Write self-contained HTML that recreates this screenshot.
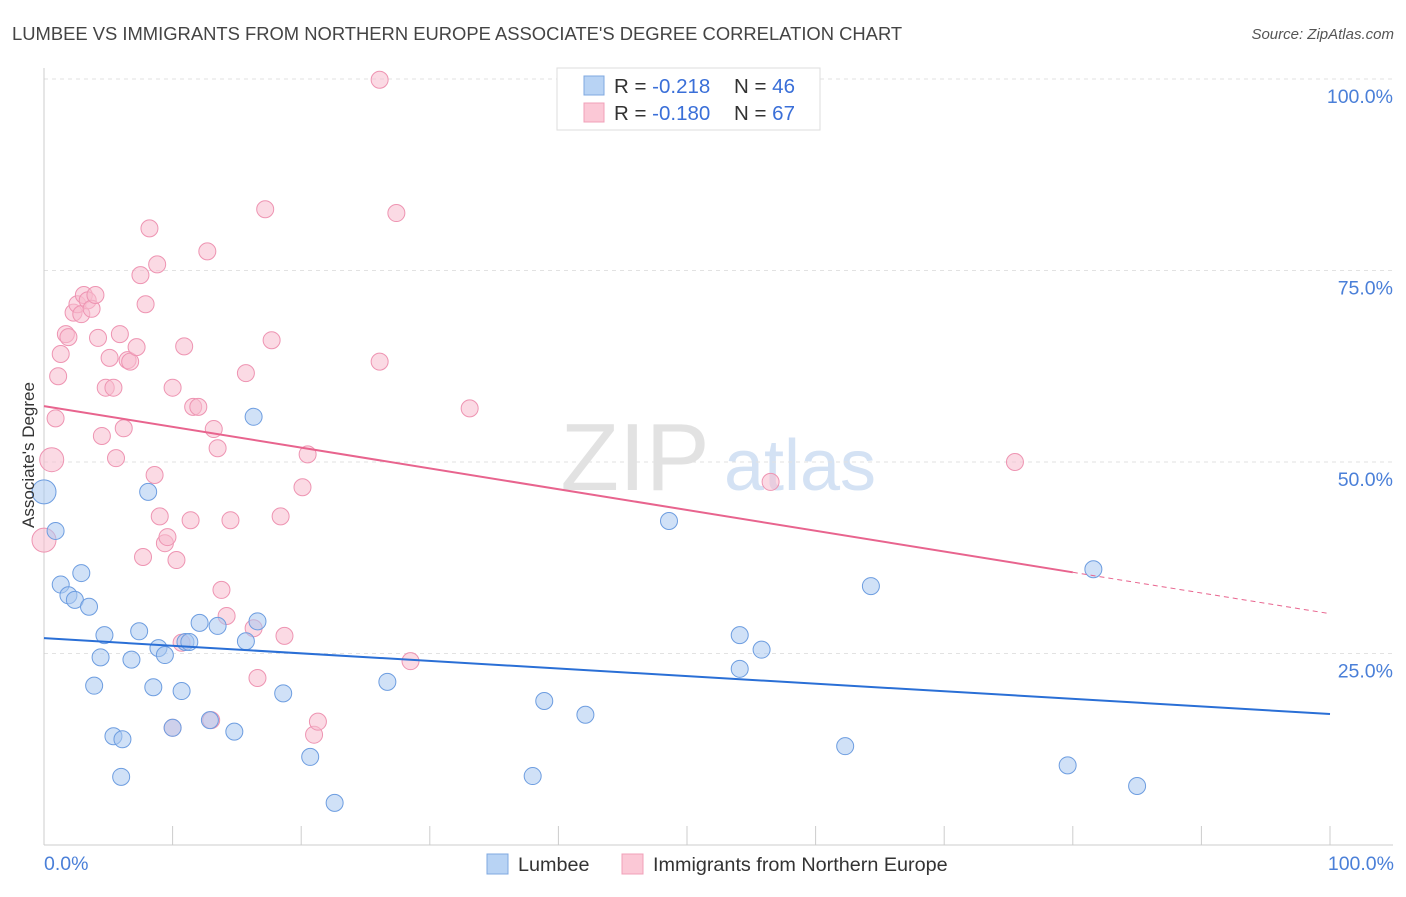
<!DOCTYPE html>
<html><head><meta charset="utf-8">
<style>
body{margin:0;background:#fff;font-family:"Liberation Sans",sans-serif;}
svg text{font-family:"Liberation Sans",sans-serif;}
</style></head>
<body>
<svg id="chart" width="1406" height="892" xmlns="http://www.w3.org/2000/svg">
<text x="12" y="40" font-size="18.4" fill="#444">LUMBEE VS IMMIGRANTS FROM NORTHERN EUROPE ASSOCIATE'S DEGREE CORRELATION CHART</text>
<text x="1394" y="39" font-size="15" fill="#555" font-style="italic" text-anchor="end">Source: ZipAtlas.com</text>
<g>
<text x="635" y="490" font-size="96" fill="#e2e2e2" font-family="Liberation Serif, serif" text-anchor="middle">ZIP</text>
<text x="800" y="490" font-size="72" fill="#d4e2f4" text-anchor="middle">atlas</text>
</g>
<g id="grid"></g>
<g id="axes"></g>
<g id="points"></g>
<g id="trends"></g>
<text transform="translate(34,455) rotate(-90)" font-size="17" fill="#333" text-anchor="middle">Associate's Degree</text>
<text x="44" y="870" font-size="19.5" fill="#4a7fd8">0.0%</text>
<text x="1394" y="870" font-size="19.5" fill="#4a7fd8" text-anchor="end">100.0%</text>
<g>
<rect x="557" y="68" width="263" height="62" fill="#fff" stroke="#ddd"/>
<rect x="584" y="76" width="20" height="19" fill="#b8d3f4" stroke="#7fa8e0"/>
<rect x="584" y="103" width="20" height="19" fill="#fbc8d6" stroke="#f0a0b8"/>
<text x="614" y="93" font-size="20.5" fill="#333">R = <tspan fill="#3a6fd8">-0.218</tspan><tspan x="734">N = </tspan><tspan fill="#3a6fd8">46</tspan></text>
<text x="614" y="120" font-size="20.5" fill="#333">R = <tspan fill="#3a6fd8">-0.180</tspan><tspan x="734">N = </tspan><tspan fill="#3a6fd8">67</tspan></text>
</g>
<g>
<rect x="487" y="854" width="21" height="20" fill="#b8d3f4" stroke="#7fa8e0"/>
<text x="518" y="871" font-size="19.8" fill="#333">Lumbee</text>
<rect x="622" y="854" width="21" height="20" fill="#fbc8d6" stroke="#f0a0b8"/>
<text x="653" y="871" font-size="19.8" fill="#333">Immigrants from Northern Europe</text>
</g>
</svg>
<script>
const yTicks=[25,50,75,100];
const yTickLabels=["25.0%","50.0%","75.0%","100.0%"];
const xTicks=[0,10,20,30,40,50,60,70,80,90,100];
const blueX=[0,0.9,1.3,1.9,2.4,2.9,3.5,4.7,4.4,3.9,5.4,6.1,6.0,6.8,7.4,8.1,8.5,8.9,9.4,10.7,11.0,11.3,12.1,13.5,12.9,14.8,15.7,16.3,16.6,18.6,20.7,22.6,26.7,38.0,38.9,42.1,48.6,54.1,54.1,55.8,62.3,64.3,79.6,81.6,85.0,10.0];
const blueY=[46.1,41.0,34.0,32.6,32.0,35.5,31.1,27.4,24.5,20.8,14.2,13.8,8.9,24.2,27.9,46.1,20.6,25.7,24.8,20.1,26.5,26.5,29.0,28.6,16.3,14.8,26.6,55.9,29.2,19.8,11.5,5.5,21.3,9.0,18.8,17.0,42.3,27.4,23.0,25.5,12.9,33.8,10.4,36.0,7.7,15.3];
const pinkX=[0,0.6,0.9,1.1,1.3,1.7,1.9,2.3,2.6,2.9,3.1,3.4,3.7,4.0,4.2,4.5,4.8,5.1,5.4,5.6,5.9,6.2,6.5,6.7,7.2,7.5,7.7,7.9,8.2,8.6,8.8,9.0,9.4,9.6,10.0,10.3,10.7,10.9,11.4,11.6,12.0,12.7,13.0,13.2,13.5,13.8,14.2,14.5,15.7,16.3,16.6,17.2,17.7,18.4,18.7,20.1,20.5,21.0,21.3,26.1,26.1,27.4,28.5,33.1,56.5,75.5,10.0];
const pinkY=[39.8,50.3,55.7,61.2,64.1,66.7,66.3,69.5,70.6,69.3,71.8,71.1,70.0,71.8,66.2,53.4,59.7,63.6,59.7,50.5,66.7,54.4,63.3,63.1,65.0,74.4,37.6,70.6,80.5,48.3,75.8,42.9,39.4,40.2,59.7,37.2,26.4,65.1,42.4,57.2,57.2,77.5,16.3,54.3,51.8,33.3,29.9,42.4,61.6,28.3,21.8,83.0,65.9,42.9,27.3,46.7,51.0,14.4,16.1,99.9,63.1,82.5,24.0,57.0,47.4,50.0,15.3];
const blueTrend=[27.0,17.1];
const pinkTrend=[57.3,35.6,30.2];
const pinkTrendSolidEnd=80;
const NS="http://www.w3.org/2000/svg";
function sx(v){return 44+v*12.86;}
function sy(v){return 845-v*7.66;}
function mk(tag,attrs,parent){const e=document.createElementNS(NS,tag);for(const k in attrs)e.setAttribute(k,attrs[k]);parent.appendChild(e);return e;}
const grid=document.getElementById('grid'),axes=document.getElementById('axes'),pts=document.getElementById('points'),tr=document.getElementById('trends');
yTicks.forEach((t,i)=>{
  const l=mk('line',{x1:44,x2:1393,y1:sy(t),y2:sy(t),stroke:'#e2e2e2','stroke-dasharray':'4,4'},grid);
  
  
  const tx=mk('text',{x:1393,y:sy(t)+24,'font-size':19.5,fill:'#4a7fd8','text-anchor':'end'},grid);
  tx.textContent=yTickLabels[i];
  
  
});
const ya=mk('line',{x1:44,x2:44,y1:68,y2:845,stroke:'#ccc'},axes);


const xa=mk('line',{x1:44,x2:1393,y1:845,y2:845,stroke:'#ccc'},axes);


xTicks.forEach(t=>{
  const l=mk('line',{x1:sx(t),x2:sx(t),y1:826,y2:845,stroke:'#ccc'},axes);
  
  
});
function dots(X,Y,fill,stroke,name,bigCount){
  X.forEach((x,i)=>{
    const c=mk('circle',{cx:sx(x),cy:sy(Y[i]),r:i<bigCount?12:8.5,fill:fill,'fill-opacity':0.55,stroke:stroke,'stroke-width':1},pts);
    
    
  });
}
dots(pinkX,pinkY,'#f8bccd','#ee94b2','point-immigrants',2);
dots(blueX,blueY,'#a9c8f1','#6d9de0','point-lumbee',1);
const bl=mk('line',{x1:sx(0),y1:sy(blueTrend[0]),x2:sx(100),y2:sy(blueTrend[1]),stroke:'#2a6fd6','stroke-width':2},tr);


const pl=mk('line',{x1:sx(0),y1:sy(pinkTrend[0]),x2:sx(pinkTrendSolidEnd),y2:sy(pinkTrend[1]),stroke:'#e8648e','stroke-width':2},tr);


const pd=mk('line',{x1:sx(pinkTrendSolidEnd),y1:sy(pinkTrend[1]),x2:sx(100),y2:sy(pinkTrend[2]),stroke:'#e8648e','stroke-width':1,'stroke-dasharray':'5,4'},tr);


</script>
</body></html>
